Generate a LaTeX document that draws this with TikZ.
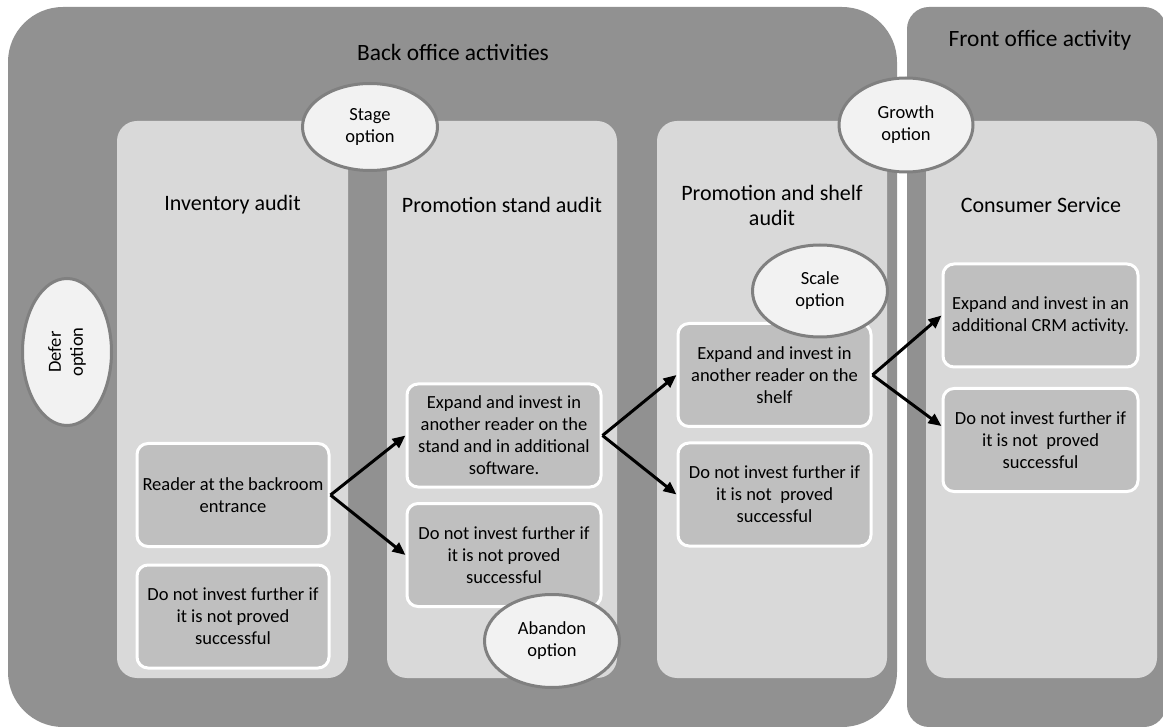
\documentclass[tikz,border=0pt]{standalone}
\usepackage{fontspec}
\setmainfont{Carlito}
\usetikzlibrary{arrows.meta,shapes}
\definecolor{darkbg}{HTML}{919191}
\definecolor{panelbg}{HTML}{D9D9D9}
\definecolor{boxbg}{HTML}{BFBFBF}
\definecolor{optbg}{HTML}{F2F2F2}
\definecolor{optrim}{HTML}{808080}
\tikzset{
  office/.style = {fill=darkbg},
  panel/.style  = {fill=panelbg, rounded corners=20pt},
  box/.style    = {draw=white, line width=3pt, fill=boxbg, rounded corners=11pt, minimum width=192pt, minimum height=103pt, align=center, inner sep=0pt, font=\fontsize{18.5}{22}\selectfont},
  opt/.style    = {ellipse, draw=optrim, line width=3pt, fill=optbg, inner sep=0pt, align=center, minimum width=135pt, minimum height=92pt, font=\fontsize{18.5}{22}\selectfont},
  head/.style   = {align=center, font=\fontsize{22}{25}\selectfont},
  title/.style  = {font=\fontsize{23.4}{28}\selectfont},
  line/.style   = {-{Triangle[length=13pt,width=11pt]}, line width=3pt},
}
\begin{document}
\begin{tikzpicture}[x=1pt,y=-1pt]
    \useasboundingbox (0,0) rectangle (1163,727);
    % offices and audit columns
    \fill[office, rounded corners=55pt] (8,7) rectangle (897,727);
    \fill[office, rounded corners=22pt] (907,7) rectangle (1166,727);
    \fill[panel] (117,121) rectangle (348,678);
    \fill[panel] (387,121) rectangle (617,678);
    \fill[panel] (657,121) rectangle (887,678);
    \fill[panel] (926,121) rectangle (1157,678);

    \node[title] (back) at (453,52) {Back office activities};
    \node[title] (front) at (1040,40) {Front office activity};
    \node[head] (hinv) at (232.5,205) {Inventory audit};
    \node[head] (hstand) at (502,205) {Promotion stand audit};
    \node[head] (hshelf) at (772,205) {Promotion and shelf\\audit};
    \node[head] (hcons) at (1041,205) {Consumer Service};

    \node[box] (reader) at (233,495) {Reader at the backroom\\entrance};
    \node[box] (invstop) at (233,616.5) {Do not invest further if\\it is not proved\\successful};
    \node[box,minimum width=194pt] (standgo) at (504,435.5) {Expand and invest in\\another reader on the\\stand and in additional\\software.};
    \node[box,minimum width=194pt] (standstop) at (504,555) {Do not invest further if\\it is not proved\\successful};
    \node[box,minimum width=193pt] (shelfgo) at (774.5,375) {Expand and invest in\\another reader on the\\shelf};
    \node[box,minimum width=193pt] (shelfstop) at (774.5,494.5) {Do not invest further if\\it is not\ \ proved\\successful};
    \node[box,minimum width=195pt] (consgo) at (1040.5,315.5) {Expand and invest in an\\additional CRM activity.};
    \node[box,minimum width=195pt] (consstop) at (1040.5,440) {Do not invest further if\\it is not\ \ proved\\successful};

    \draw[line] (reader.east) -- (standgo.west);
    \draw[line] (reader.east) -- (standstop.west);
    \draw[line] (standgo.east) -- (shelfgo.west);
    \draw[line] (standgo.east) -- (shelfstop.west);
    \draw[line] (shelfgo.east) -- (consgo.west);
    \draw[line] (shelfgo.east) -- (consstop.172);

    \node[opt,minimum height=87pt] (stage) at (370,127) {Stage\\option};
    \node[opt,minimum width=134pt,minimum height=94pt] (growth) at (906,125) {Growth\\option};
    \node[opt] (scale) at (820,291) {Scale\\option};
    \node[opt,minimum height=93pt] (abandon) at (552,641) {Abandon\\option};
    \node[opt,rotate=90,minimum width=147pt,minimum height=89pt] (defer) at (67,352) {Defer\\option};
\end{tikzpicture}
\end{document}
